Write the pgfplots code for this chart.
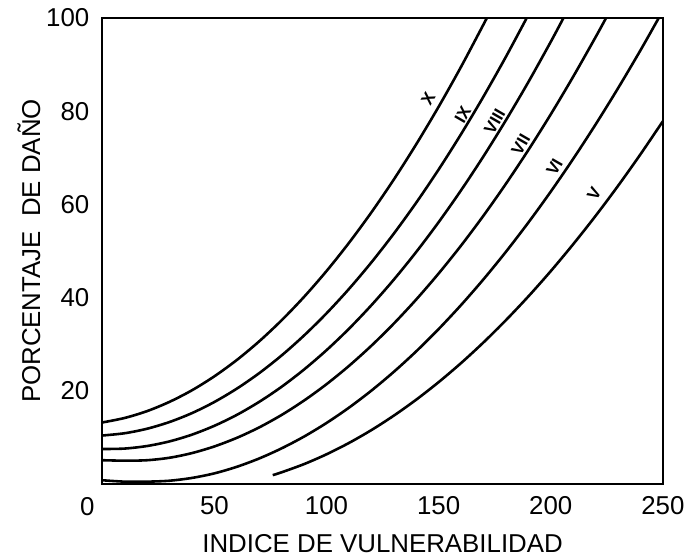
\documentclass[border=0pt]{standalone}
\usepackage{pgfplots}
\pgfplotsset{compat=1.18}
\usepackage{fontspec}
\setmainfont{Liberation Sans}
\begin{document}
\begin{tikzpicture}
\begin{axis}[
  scale only axis,
  width=282pt, height=234.5pt,
  xmin=0, xmax=250, ymin=0, ymax=100,
  xtick={50,100,150,200,250},
  ytick={20,40,60,80,100},
  major tick length=0pt,
  axis line style={line width=1pt},
  /pgf/number format/assume math mode=true,
  tick label style={font=\fontsize{13}{15}\selectfont},
  xticklabel style={yshift=-2.5pt},
  yticklabel style={xshift=-3pt},
  every axis x label/.style={at={(axis description cs:0.5,-0.128)},anchor=center,font=\fontsize{13}{15}\selectfont},
  every axis y label/.style={at={(axis description cs:-0.131,0.5)},rotate=90,anchor=center,font=\fontsize{13}{15}\selectfont},
  xlabel={INDICE DE VULNERABILIDAD},
  ylabel={PORCENTAJE\ \ DE DAÑO},
  clip=false,
]
\pgfplotsset{cv/.style={black, line width=1.3pt, smooth, no markers}}
% X
\addplot[cv] coordinates {(0,13.2) (10,14.17) (20,15.64) (30,17.63) (40,20.11) (50,23.11) (60,26.61) (70,30.62) (80,35.14) (90,40.16) (100,45.69) (110,51.73) (120,58.27) (130,65.32) (140,72.88) (150,80.94) (160,89.51) (170,98.59) (171.5,100)};
% IX
\addplot[cv] coordinates {(0,10.4) (10,10.89) (20,11.86) (30,13.30) (40,15.21) (50,17.60) (60,20.46) (70,23.79) (80,27.59) (90,31.87) (100,36.62) (110,41.84) (120,47.54) (130,53.71) (140,60.35) (150,67.47) (160,75.06) (170,83.12) (180,91.65) (189.3,100)};
% VIII
\addplot[cv] coordinates {(0,7.5) (10,7.6) (20,8.15) (30,9.14) (40,10.59) (50,12.49) (60,14.83) (70,17.63) (80,20.87) (90,24.57) (100,28.71) (110,33.30) (120,38.35) (130,43.84) (140,49.78) (150,56.17) (160,63.01) (170,70.30) (180,78.04) (190,86.22) (200,94.86) (205.7,100)};
% VII
\addplot[cv] coordinates {(0,5.1) (10,5.0) (20,5.1) (30,5.63) (40,6.63) (50,8.06) (60,9.90) (70,12.15) (80,14.82) (90,17.91) (100,21.41) (110,25.33) (120,29.66) (130,34.41) (140,39.58) (150,45.16) (160,51.15) (170,57.57) (180,64.40) (190,71.64) (200,79.30) (210,87.38) (220,95.87) (224.7,100)};
% VI
\addplot[cv] coordinates {(0,0.8) (10,0.5) (20,0.5) (30,0.7) (40,1.3) (50,2.28) (60,3.69) (70,5.48) (80,7.65) (90,10.18) (100,13.09) (110,16.37) (120,20.03) (130,24.06) (140,28.46) (150,33.24) (160,38.39) (170,43.91) (180,49.81) (190,56.08) (200,62.72) (210,69.74) (220,77.13) (230,84.89) (240,93.03) (248.2,100)};
% V
\addplot[cv] coordinates {(76,1.9) (80,2.51) (90,4.27) (100,6.37) (110,8.80) (120,11.56) (130,14.66) (140,18.09) (150,21.85) (160,25.94) (170,30.37) (180,35.14) (190,40.23) (200,45.66) (210,51.43) (220,57.52) (230,63.95) (240,70.72) (250,77.82)};
\begin{scope}[every node/.style={font=\fontsize{8.5}{10}\selectfont\bfseries, rotate=60, inner sep=0pt}]
\node at (axis cs:145.3,82.6) {X};
\node at (axis cs:160.8,79.3) {IX};
\node at (axis cs:175,77.8) {VIII};
\node at (axis cs:186.6,72.9) {VII};
\node at (axis cs:201.7,68) {VI};
\node at (axis cs:219.4,62.2) {V};
\end{scope}
\node[font=\fontsize{13}{15}\selectfont] at (rel axis cs:-0.027,-0.049) {0};
\coordinate (bl) at (rel axis cs:-0.1826,-0.160);
\coordinate (tr) at (rel axis cs:1.0426,1.0384);
\end{axis}
\path (bl) rectangle (tr);
\end{tikzpicture}
\end{document}
